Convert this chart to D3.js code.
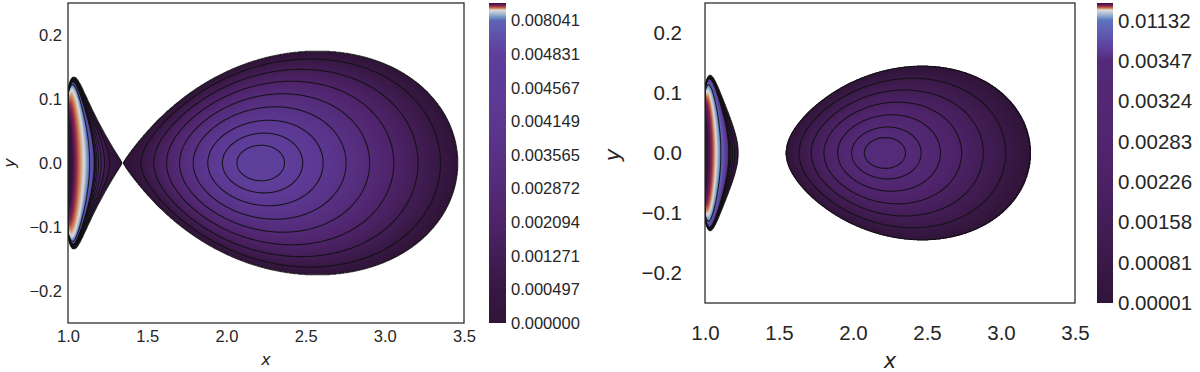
<!DOCTYPE html>
<html><head><meta charset="utf-8">
<script src="https://cdn.jsdelivr.net/npm/d3@7"></script>
<style>
body{margin:0;background:#fff;}
svg{display:block;}
text{font-family:"Liberation Sans",Arial,sans-serif;fill:#262626;}
</style>
</head><body>
<svg id="c" width="1200" height="372"></svg>
<script>
// ---------------- data ----------------
const xTicks = [1.0, 1.5, 2.0, 2.5, 3.0, 3.5];
const yTicks = [-0.2, -0.1, 0.0, 0.1, 0.2];
const xDomain = [1.0, 3.5];
const yDomain = [-0.25, 0.25];

// colour-bar tick levels = contour levels
const levels1 = [0.000000, 0.000497, 0.001271, 0.002094, 0.002872, 0.003565, 0.004149, 0.004567, 0.004831, 0.008041];
const levels2 = [0.00001, 0.00081, 0.00158, 0.00226, 0.00283, 0.00324, 0.00347, 0.01132];
// unlabelled values in the upper part of each colour bar
const topLevels1 = [0.0146, 0.0356, 0.055];
const topLevels2 = [0.0205, 0.0364, 0.0588];
// colour-map coordinate reached at [last tick, topLevels...]
const topNorm1 = [0.18, 0.5, 0.85, 1.0];
const topNorm2 = [0.21, 0.5, 0.85, 1.0];

// torus geometry
const cuspX = 1.345;          // X-point of the left panel
const centreX = 2.21;         // density maximum (O-point)
const innerEdge2 = 1.545;     // inner edge of the right panel torus
const halfHeight1 = 0.1745;   // max |y| of the left panel torus
const densityScale = [0.246, 0.250]; // density per unit potential drop (panel 1, 2)

// ---------------- model of the field ----------------
function lsq(x, a) { return x * x * x / ((x - a) * (x - a)); }
let lo = 0.2, hi = 0.9;
for (let k = 0; k < 80; k++) { const m = (lo + hi) / 2; if (lsq(cuspX, m) > lsq(centreX, m)) hi = m; else lo = m; }
const aPW = (lo + hi) / 2;
const l2 = lsq(centreX, aPW);
const W0 = x => -1 / (x - aPW) + l2 / (2 * x * x);
const Win1 = W0(cuspX), Win2 = W0(innerEdge2);
let thMax = 0;
for (let x = cuspX; x < 4; x += 0.0005) {
  const den = 2 * x * x * (Win1 + 1 / (x - aPW));
  if (den <= 0) continue;
  const c2 = l2 / den;
  if (c2 <= 1) thMax = Math.max(thMax, Math.acos(Math.sqrt(c2)));
}
const c0 = thMax / halfHeight1;
const cFac = x => c0 * (1 + 0.55 * Math.exp(-(x - 1) / 0.024));
function W(x, y) { const cs = Math.cos(cFac(x) * y); return -1 / (x - aPW) + l2 / (2 * x * x * cs * cs); }
function rho(x, y, Win, K) {
  const dW = Win - W(x, y);
  if (!(dW > 0)) return 0;
  return K * dW * dW / (dW + 0.0006) * (1 + 2.08 * Math.exp(-(x - 1) / 0.08));
}

// ---------------- colour map (twilight_shifted) ----------------
const tsStops = [
  [0.00, [48, 20, 56]], [0.05, [80, 36, 108]], [0.10, [93, 58, 150]], [0.15, [95, 83, 173]],
  [0.20, [94, 110, 187]], [0.25, [100, 134, 194]], [0.30, [123, 153, 198]], [0.40, [176, 190, 208]],
  [0.50, [226, 217, 226]], [0.55, [215, 190, 170]], [0.60, [207, 158, 122]], [0.65, [200, 126, 86]],
  [0.70, [189, 97, 69]], [0.75, [173, 71, 66]], [0.80, [153, 51, 76]], [0.85, [130, 36, 84]],
  [0.90, [104, 26, 83]], [0.95, [76, 21, 73]], [1.00, [48, 20, 56]]
];
const cmap = d3.scaleLinear().domain(tsStops.map(d => d[0]))
  .range(tsStops.map(d => d3.rgb(d[1][0], d[1][1], d[1][2]))).interpolate(d3.interpolateRgb).clamp(true);

const svg = d3.select('#c');
const fmt1 = d3.format('.1f');

const panels = [
  { x0: 68, x1: 464, y0: 3, y1: 323, levels: levels1, top: topLevels1, topNorm: topNorm1, Win: Win1, K: densityScale[0],
    bar: [489, 506], tickTop: 20.7, fs: 16.5, labFmt: d3.format('.6f'),
    xPad: 7.2, yPad: 6, cbPad: 5, xLab: [266, 364.5], yLab: [14.5, 163], labFs: 16, topFrac: [0.6, 0.85, 1.0] },
  { x0: 705, x1: 1075, y0: 3, y1: 303, levels: levels2, top: topLevels2, topNorm: topNorm2, Win: Win2, K: densityScale[1],
    bar: [1097, 1113], tickTop: 20.5, fs: 20.5, labFmt: d3.format('.5f'),
    xPad: 22.8, yPad: 23, cbPad: 5, xLab: [890, 367.5], yLab: [620, 155], labFs: 21, topFrac: [0.6, 0.85, 1.0] }
];

panels.forEach((p, pi) => {
  const xs = d3.scaleLinear().domain(xDomain).range([p.x0, p.x1]);
  const ys = d3.scaleLinear().domain(yDomain).range([p.y1, p.y0]);
  const lastTick = p.levels[p.levels.length - 1];
  const norm = d3.scaleLinear()
    .domain([0, lastTick].concat(p.top))
    .range([0].concat(p.topNorm)).clamp(true);

  const S = 2;
  const nx = Math.round((p.x1 - p.x0) * S), ny = Math.round((p.y1 - p.y0) * S);
  const vals = new Float64Array(nx * ny);
  const cv = document.createElement('canvas'); cv.width = nx; cv.height = ny;
  const ctx = cv.getContext('2d');
  const img = ctx.createImageData(nx, ny);
  for (let j = 0; j < ny; j++) {
    const y = ys.invert(p.y0 + (j + 0.5) / S);
    for (let i = 0; i < nx; i++) {
      const x = xs.invert(p.x0 + (i + 0.5) / S);
      const v = rho(x, y, p.Win, p.K);
      const k = i + j * nx;
      vals[k] = v;
      if (v > 0) {
        const c = d3.rgb(cmap(norm(v)));
        img.data[4 * k] = c.r; img.data[4 * k + 1] = c.g; img.data[4 * k + 2] = c.b; img.data[4 * k + 3] = 255;
      }
    }
  }
  ctx.putImageData(img, 0, 0);

  const clipId = 'clip' + pi;
  svg.append('clipPath').attr('id', clipId).append('rect')
    .attr('x', p.x0).attr('y', p.y0).attr('width', p.x1 - p.x0).attr('height', p.y1 - p.y0);
  const g = svg.append('g').attr('clip-path', `url(#${clipId})`);
  g.append('image').attr('x', p.x0).attr('y', p.y0).attr('width', p.x1 - p.x0).attr('height', p.y1 - p.y0)
    .attr('preserveAspectRatio', 'none').attr('href', cv.toDataURL());

  const lineLevels = p.levels.map(v => Math.max(v, 1e-7));
  const contours = d3.contours().size([nx, ny]).thresholds(lineLevels)(Array.from(vals));
  const proj = d3.geoTransform({ point(x, y) { this.stream.point(p.x0 + x / S, p.y0 + y / S); } });
  const path = d3.geoPath(proj);
  g.selectAll('path.ct').data(contours).join('path').attr('class', 'ct')
    .attr('d', path).attr('fill', 'none').attr('stroke', '#111').attr('stroke-opacity', 0.9).attr('stroke-width', 1.1);

  svg.append('rect').attr('x', p.x0).attr('y', p.y0).attr('width', p.x1 - p.x0).attr('height', p.y1 - p.y0)
    .attr('fill', 'none').attr('stroke', '#262626').attr('stroke-width', 1.25);

  const ax = svg.append('g').attr('transform', `translate(0,${p.y1})`)
    .call(d3.axisBottom(xs).tickValues(xTicks).tickFormat(fmt1).tickSize(0).tickPadding(p.xPad));
  const ay = svg.append('g').attr('transform', `translate(${p.x0},0)`)
    .call(d3.axisLeft(ys).tickValues(yTicks).tickFormat(fmt1).tickSize(0).tickPadding(p.yPad));
  [ax, ay].forEach(a => {
    a.select('.domain').remove();
    a.selectAll('text').attr('fill', '#262626').style('font-size', p.fs + 'px')
      .style('font-family', '"Liberation Sans", Arial, sans-serif');
  });

  svg.append('text').attr('x', p.xLab[0]).attr('y', p.xLab[1]).attr('text-anchor', 'middle')
    .style('font-family', '"DejaVu Sans", sans-serif').style('font-style', 'italic').style('font-size', p.labFs + 'px').text('x');
  svg.append('text').attr('transform', `translate(${p.yLab[0]},${p.yLab[1]}) rotate(-90)`).attr('text-anchor', 'middle')
    .style('font-family', '"DejaVu Sans", sans-serif').style('font-style', 'italic').style('font-size', p.labFs + 'px').text('y');

  // colour bar, drawn row by row into a canvas
  const nT = p.levels.length;
  const step = (p.y1 - p.tickTop) / (nT - 1);
  const seg = p.tickTop - p.y0;
  const barPos = p.levels.map((v, i) => p.y1 - i * step).concat(p.topFrac.map(f => p.tickTop - f * seg));
  const barScale = d3.scaleLinear().domain(p.levels.concat(p.top)).range(barPos);
  const bh = Math.round((p.y1 - p.y0) * 4);
  const bc = document.createElement('canvas'); bc.width = 1; bc.height = bh;
  const bctx = bc.getContext('2d');
  for (let r = 0; r < bh; r++) {
    const py = p.y0 + (r + 0.5) / 4;
    bctx.fillStyle = cmap(norm(barScale.invert(py)));
    bctx.fillRect(0, r, 1, 1);
  }
  svg.append('image').attr('x', p.bar[0]).attr('y', p.y0).attr('width', p.bar[1] - p.bar[0]).attr('height', p.y1 - p.y0)
    .attr('preserveAspectRatio', 'none').attr('href', bc.toDataURL());
  svg.append('g').selectAll('text').data(p.levels).join('text')
    .attr('x', p.bar[1] + p.cbPad).attr('y', d => barScale(d)).attr('dy', '0.35em')
    .style('font-size', p.fs + 'px').text(d => p.labFmt(d));
});
</script>
</body></html>
